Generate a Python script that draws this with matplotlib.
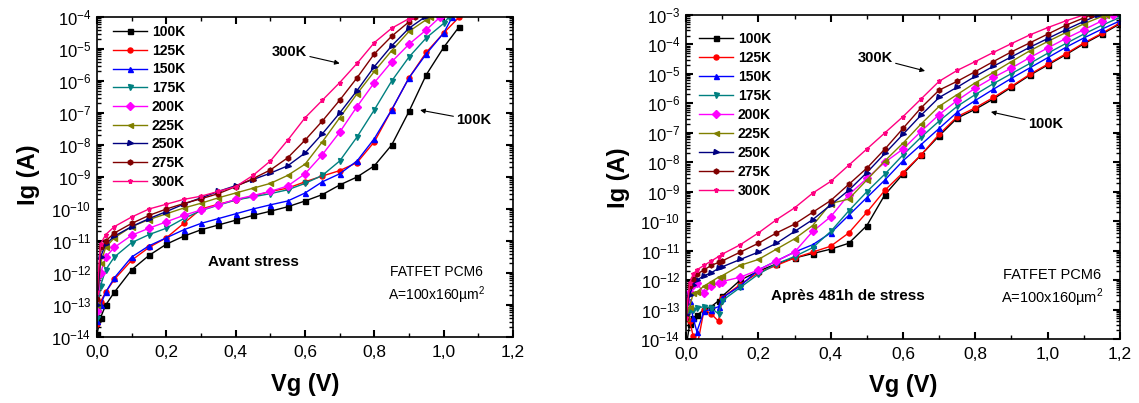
# Ig(Vg) curves of the FATFET PCM6, before and after stress, 100K to 300K

import matplotlib
matplotlib.use('Agg')
import matplotlib.pyplot as plt
import numpy as np
from matplotlib.ticker import FuncFormatter, LogLocator, MultipleLocator, NullFormatter

plt.rcParams['font.family'] = ['Liberation Sans', 'DejaVu Sans']
plt.rcParams['mathtext.fontset'] = 'custom'
plt.rcParams['mathtext.rm'] = 'Liberation Sans'
plt.rcParams['axes.unicode_minus'] = False

# Temperatures, colours and markers of the series (same in both plots)
temperatures = ['100K', '125K', '150K', '175K', '200K', '225K', '250K', '275K', '300K']
colors = ['#000000', '#ff0000', '#0000ff', '#008080', '#ff00ff',
          '#808000', '#000080', '#800000', '#ff0080']
markers = ['s', 'o', '^', 'v', 'D', '<', '>', 'h', '*']

# ---- Avant stress: gate voltage grid (V) and log10(Ig / A) per temperature
vg_before = [0.0, 0.01, 0.025, 0.05, 0.1, 0.15, 0.2, 0.25, 0.3, 0.35, 0.4, 0.45,
             0.5, 0.55, 0.6, 0.65, 0.7, 0.75, 0.8, 0.85, 0.9, 0.95, 1.0, 1.045]
# voltage where each curve stops (compliance reached)
vg_end_before = [1.045, 1.045, 1.025, 1.015, 0.99, 0.96, 0.946, 0.917, 0.91]

before_100k = [-13.9, -13.4, -13.0, -12.6, -11.9, -11.45, -11.1, -10.85, -10.65, -10.5, -10.35, -10.2,
               -10.07, -9.93, -9.75, -9.55, -9.25, -9.0, -8.65, -8.0, -6.95, -5.8, -4.95, -4.3]
before_125k = [-13.6, -12.9, -12.6, -12.2, -11.6, -11.2, -10.9, -10.45, -10.0, -9.85, -9.72, -9.6,
               -9.45, -9.35, -9.15, -8.97, -8.8, -8.55, -7.9, -6.9, -5.9, -5.1, -4.5, -4.0]
before_150k = [-13.5, -13.0, -12.6, -12.15, -11.5, -11.15, -10.9, -10.65, -10.45, -10.3, -10.15, -10.0,
               -9.87, -9.75, -9.5, -9.15, -8.9, -8.5, -7.8, -6.9, -5.9, -5.15, -4.5, -4.0]
before_175k = [-13.4, -12.4, -11.9, -11.5, -11.05, -10.8, -10.6, -10.3, -10.05, -9.88, -9.72, -9.62,
               -9.52, -9.4, -9.2, -8.95, -8.5, -7.75, -6.9, -6.0, -5.25, -4.65, -4.2, -4.0]
before_200k = [-13.2, -12.0, -11.5, -11.2, -10.82, -10.6, -10.4, -10.2, -10.03, -9.87, -9.7, -9.58,
               -9.45, -9.28, -8.9, -8.3, -7.6, -6.8, -6.05, -5.4, -4.85, -4.4, -4.0]
before_225k = [-13.0, -11.7, -11.2, -10.9, -10.55, -10.33, -10.15, -9.97, -9.82, -9.65, -9.5, -9.35,
               -9.2, -8.95, -8.6, -7.9, -7.15, -6.4, -5.7, -5.05, -4.45, -4.08, -4.0]
before_250k = [-13.0, -11.5, -11.1, -10.85, -10.55, -10.3, -10.08, -9.85, -9.65, -9.45, -9.27, -9.08,
               -8.88, -8.65, -8.25, -7.65, -7.0, -6.3, -5.55, -4.9, -4.35, -4.0]
before_275k = [-12.8, -11.2, -11.0, -10.75, -10.45, -10.2, -10.0, -9.83, -9.68, -9.52, -9.3, -9.05,
               -8.78, -8.4, -7.85, -7.25, -6.6, -5.9, -5.15, -4.6, -4.15, -4.0]
before_300k = [-12.6, -11.1, -10.8, -10.55, -10.25, -10.0, -9.85, -9.7, -9.6, -9.45, -9.3, -8.95,
               -8.5, -7.85, -7.15, -6.6, -6.05, -5.45, -4.8, -4.35, -4.05, -4.0]

# ---- Apres 481h de stress
vg_after = [0.0, 0.01, 0.02, 0.03, 0.05, 0.07, 0.09, 0.1, 0.15, 0.2, 0.25, 0.3, 0.35, 0.4, 0.45,
            0.5, 0.55, 0.6, 0.65, 0.7, 0.75, 0.8, 0.85, 0.9, 0.95, 1.0, 1.05, 1.1, 1.15, 1.2]
vg_end_after = [1.2, 1.2, 1.2, 1.2, 1.18, 1.16, 1.14, 1.12, 1.1]

after_100k = [-14.3, -13.5, -13.3, -13.2, -13.0, -12.9, -12.7, -12.55, -12.0, -11.7, -11.45, -11.25,
              -11.1, -10.95, -10.75, -10.15, -9.1, -8.4, -7.75, -7.1, -6.5, -6.2, -5.85, -5.45,
              -5.05, -4.7, -4.35, -3.98, -3.65, -3.3]
after_125k = [-13.2, -13.4, -13.9, -14.3, -13.0, -13.15, -13.4, -12.6, -12.15, -11.75, -11.5, -11.25,
              -11.05, -10.85, -10.4, -9.7, -8.95, -8.35, -7.75, -7.05, -6.45, -6.15, -5.8, -5.42,
              -5.02, -4.67, -4.32, -3.95, -3.62, -3.27]
after_150k = [-13.0, -12.7, -13.3, -13.75, -13.05, -13.0, -12.9, -12.6, -12.2, -11.65, -11.35, -11.05,
              -10.8, -10.4, -9.8, -9.2, -8.6, -7.95, -7.4, -6.85, -6.3, -5.9, -5.52, -5.15,
              -4.8, -4.45, -4.1, -3.78, -3.48, -3.2]
after_175k = [-13.3, -13.0, -13.0, -12.95, -12.9, -12.95, -13.15, -12.7, -12.25, -11.8, -11.45, -11.2,
              -10.9, -10.35, -9.65, -9.0, -8.4, -7.75, -7.15, -6.6, -6.1, -5.7, -5.33, -4.99,
              -4.65, -4.3, -3.97, -3.65, -3.35, -3.08]
after_200k = [-12.7, -12.4, -12.15, -12.1, -12.45, -12.2, -12.1, -12.05, -11.9, -11.66, -11.35, -11.05,
              -10.35, -9.85, -9.1, -8.55, -8.0, -7.55, -6.95, -6.38, -5.9, -5.48, -5.12, -4.8,
              -4.45, -4.12, -3.8, -3.5, -3.2, -3.0]
after_225k = [-13.3, -12.9, -12.45, -12.4, -12.2, -12.05, -11.9, -11.85, -11.5, -11.3, -10.95, -10.6,
              -10.15, -9.4, -9.25, -8.6, -7.95, -7.35, -6.7, -6.1, -5.7, -5.3, -4.95, -4.58,
              -4.22, -3.9, -3.6, -3.3, -3.05, -3.0]
after_250k = [-13.2, -12.5, -12.15, -12.0, -11.85, -11.75, -11.6, -11.55, -11.3, -11.05, -10.75, -10.35,
              -9.95, -9.45, -8.95, -8.35, -7.7, -7.05, -6.4, -5.8, -5.45, -5.08, -4.74, -4.42,
              -4.1, -3.8, -3.5, -3.22, -3.0]
after_275k = [-13.3, -12.2, -11.95, -11.8, -11.65, -11.5, -11.4, -11.35, -11.05, -10.75, -10.4, -10.1,
              -9.7, -9.3, -8.75, -8.2, -7.55, -6.85, -6.15, -5.55, -5.25, -4.92, -4.58, -4.25,
              -3.95, -3.65, -3.35, -3.1, -3.0]
after_300k = [-13.3, -12.1, -11.8, -11.65, -11.5, -11.35, -11.2, -11.12, -10.8, -10.4, -9.95, -9.55,
              -9.05, -8.65, -8.1, -7.55, -7.0, -6.45, -5.85, -5.25, -4.88, -4.58, -4.27, -3.97,
              -3.68, -3.43, -3.2, -3.0]

before_series = [before_100k, before_125k, before_150k, before_175k, before_200k,
                 before_225k, before_250k, before_275k, before_300k]
after_series = [after_100k, after_125k, after_150k, after_175k, after_200k,
                after_225k, after_250k, after_275k, after_300k]


def curve_voltages(grid, end):
    """Grid points below the end voltage, then the end voltage itself."""
    return [v for v in grid if v < end - 1e-9] + [end]


def draw_curves(ax, grid, ends, series):
    for i, values in enumerate(series):
        vg = curve_voltages(grid, ends[i])
        ig = np.power(10.0, values)
        ax.plot(vg, ig, color=colors[i], marker=markers[i], markersize=3.6,
                linewidth=1.0, label=temperatures[i])


def style_axes(ax, ymin_exp, ymax_exp):
    ax.set_yscale('log')
    ax.set_xlim(0.0, 1.2)
    ax.set_ylim(10.0 ** ymin_exp, 10.0 ** ymax_exp)
    ax.xaxis.set_major_locator(MultipleLocator(0.2))
    ax.xaxis.set_minor_locator(MultipleLocator(0.1))
    ax.xaxis.set_major_formatter(FuncFormatter(lambda x, pos: f"{x:.1f}".replace('.', ',')))
    ax.yaxis.set_major_locator(LogLocator(base=10, numticks=20))
    ax.yaxis.set_minor_locator(LogLocator(base=10, subs=np.arange(2, 10), numticks=20))
    ax.yaxis.set_major_formatter(FuncFormatter(
        lambda y, pos: r'$\mathregular{10^{%d}}$' % int(round(np.log10(y)))))
    ax.yaxis.set_minor_formatter(NullFormatter())
    ax.tick_params(which='both', direction='in', top=True, right=True)
    ax.tick_params(which='major', length=5, width=1.5)
    ax.tick_params(axis='x', which='major', labelsize=12.5, pad=6)
    ax.tick_params(axis='y', which='major', labelsize=12, pad=4)
    ax.tick_params(which='minor', length=3, width=1.0)
    for spine in ax.spines.values():
        spine.set_linewidth(1.2)
    ax.set_xlabel('Vg (V)', fontsize=17, fontweight='bold')
    ax.set_ylabel('Ig (A)', fontsize=17, fontweight='bold')


def add_legend(ax, anchor, spacing):
    ax.legend(loc='upper left', bbox_to_anchor=anchor, frameon=False,
              prop={'size': 10, 'weight': 'bold'}, handlelength=2.45, handletextpad=0.35,
              labelspacing=spacing, borderaxespad=0.0, borderpad=0.0)


def arrow_label(ax, text, tip, start, ha):
    ax.annotate(text, xy=tip, xytext=start, fontsize=10.5, fontweight='bold',
                ha=ha, va='center',
                arrowprops=dict(arrowstyle='-|>', color='black', lw=0.8,
                                mutation_scale=7, shrinkA=0, shrinkB=0))


fig = plt.figure(figsize=(11.39, 4.03), dpi=100)
ax1 = fig.add_axes([0.0852, 0.1638, 0.3652, 0.794])
ax2 = fig.add_axes([0.6023, 0.1588, 0.381, 0.804])

# Left: avant stress
draw_curves(ax1, vg_before, vg_end_before, before_series)
style_axes(ax1, -14, -4)
ax1.xaxis.set_label_coords(0.5, -0.112)
ax1.yaxis.set_label_coords(-0.137, 0.506)
add_legend(ax1, (0.038, 0.975), 0.34)
arrow_label(ax1, '300K', (0.70, 10 ** -5.45), (0.606, 10 ** -5.09), 'right')
arrow_label(ax1, '100K', (0.932, 10 ** -6.91), (1.036, 10 ** -7.22), 'left')
ax1.text(0.377, 0.234, 'Avant stress', transform=ax1.transAxes, fontsize=11,
         fontweight='bold', ha='center', va='center')
ax1.text(0.817, 0.203, 'FATFET PCM6', transform=ax1.transAxes, fontsize=10,
         ha='center', va='center')
ax1.text(0.817, 0.130, 'A=100x160µm$^2$', transform=ax1.transAxes, fontsize=10,
         ha='center', va='center')

# Right: apres 481h de stress
draw_curves(ax2, vg_after, vg_end_after, after_series)
style_axes(ax2, -14, -3)
ax2.xaxis.set_label_coords(0.5, -0.108)
ax2.yaxis.set_label_coords(-0.129, 0.497)
add_legend(ax2, (0.030, 0.948), 0.36)
arrow_label(ax2, '300K', (0.661, 10 ** -4.9), (0.572, 10 ** -4.46), 'right')
arrow_label(ax2, '100K', (0.843, 10 ** -6.29), (0.945, 10 ** -6.70), 'left')
ax2.text(0.373, 0.133, 'Après 481h de stress', transform=ax2.transAxes, fontsize=11,
         fontweight='bold', ha='center', va='center')
ax2.text(0.843, 0.198, 'FATFET PCM6', transform=ax2.transAxes, fontsize=10.5,
         ha='center', va='center')
ax2.text(0.843, 0.127, 'A=100x160µm$^2$', transform=ax2.transAxes, fontsize=10.5,
         ha='center', va='center')

fig.savefig('out.png', dpi=100)
